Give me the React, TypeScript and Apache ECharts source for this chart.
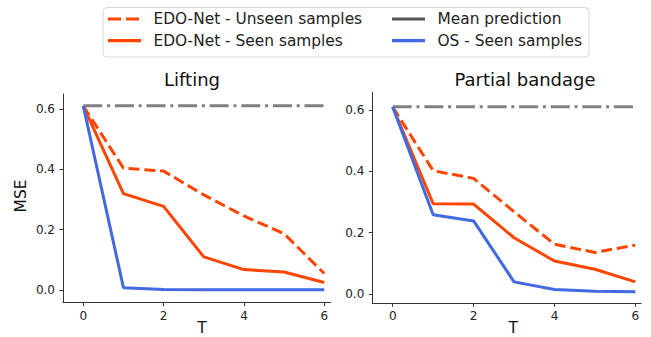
import React, { useEffect, useRef } from "react";
import * as echarts from "echarts";

const T = [0, 1, 2, 3, 4, 5, 6];
const xTicks = [0, 2, 4, 6];
const yTicks = [0, 0.2, 0.4, 0.6];
const panelTitles = ["Lifting", "Partial bandage"];
const seriesNames = [
  "EDO-Net - Unseen samples",
  "EDO-Net - Seen samples",
  "Mean prediction",
  "OS - Seen samples",
];

// Lifting
const liftMean = [0.611, 0.611, 0.611, 0.611, 0.611, 0.611, 0.611];
const liftUnseen = [0.61, 0.404, 0.394, 0.315, 0.245, 0.186, 0.054];
const liftSeen = [0.61, 0.319, 0.277, 0.109, 0.067, 0.059, 0.024];
const liftOS = [0.61, 0.007, 0.001, 0.0, 0.0, 0.0, 0.0];

// Partial bandage
const bandMean = [0.611, 0.611, 0.611, 0.611, 0.611, 0.611, 0.611];
const bandUnseen = [0.61, 0.402, 0.377, 0.268, 0.162, 0.135, 0.159];
const bandSeen = [0.61, 0.294, 0.293, 0.183, 0.107, 0.08, 0.039];
const bandOS = [0.61, 0.258, 0.238, 0.039, 0.014, 0.008, 0.007];

const ORANGE = "#FF4500";
const BLUE = "#4169E1";
const GRAY = "#808080";
const FONT = "DejaVu Sans";

const pairs = (ys: number[]) => T.map((t, i) => [t, ys[i]]);

export default function App() {
  const ref = useRef<HTMLDivElement>(null);
  useEffect(() => {
    if (!ref.current) return;
    const chart = echarts.init(ref.current, null, { renderer: "svg" });

    const grids = [
      { left: 63, top: 94, width: 267.7, height: 208.7 },
      { left: 372.3, top: 92.3, width: 268.7, height: 211 },
    ];
    const xRanges = [
      [-0.505, 6.16],
      [-0.505, 6.14],
    ];
    const yRanges = [
      [-0.043, 0.65],
      [-0.031, 0.658],
    ];
    const axisLine = { show: true, onZero: false, lineStyle: { color: "#333", width: 1 } };
    const axisTick = (vals: number[]) => ({
      show: true,
      length: 3.5,
      customValues: vals,
      lineStyle: { color: "#333", width: 1 },
    });

    const xAxes = [0, 1].map((i) => ({
      type: "value",
      gridIndex: i,
      min: xRanges[i][0],
      max: xRanges[i][1],
      splitLine: { show: false },
      axisLine,
      axisTick: axisTick(xTicks),
      axisLabel: {
        customValues: xTicks,
        color: "#222",
        fontFamily: FONT,
        fontSize: 12,
        margin: 7,
        formatter: (v: number) => String(v),
      },
    }));
    const yAxes = [0, 1].map((i) => ({
      type: "value",
      gridIndex: i,
      min: yRanges[i][0],
      max: yRanges[i][1],
      splitLine: { show: false },
      axisLine,
      axisTick: axisTick(yTicks),
      axisLabel: {
        customValues: yTicks,
        color: "#222",
        fontFamily: FONT,
        fontSize: 12,
        margin: 8,
        formatter: (v: number) => v.toFixed(1),
      },
    }));

    const panels = [
      [liftUnseen, liftSeen, liftMean, liftOS],
      [bandUnseen, bandSeen, bandMean, bandOS],
    ];
    const styles: any[] = [
      { color: ORANGE, width: 3, type: [11, 4.8] },
      { color: ORANGE, width: 3, type: "solid" },
      { color: GRAY, width: 3, type: [19, 4.8, 3, 4.8] },
      { color: BLUE, width: 3, type: "solid" },
    ];
    const drawOrder = [2, 3, 1, 0];
    const series: any[] = [];
    [0, 1].forEach((p) => {
      drawOrder.forEach((k) => {
        series.push({
          type: "line",
          name: seriesNames[k],
          xAxisIndex: p,
          yAxisIndex: p,
          data: pairs(panels[p][k]),
          symbol: "none",
          color: styles[k].color,
          lineStyle: styles[k],
          z: 2 + k,
        });
      });
    });

    // Manual legend (2 columns x 2 rows)
    const legendItems = [
      { name: seriesNames[0], color: ORANGE, dash: [13, 5], col: 0, row: 0 },
      { name: seriesNames[1], color: ORANGE, dash: null, col: 0, row: 1 },
      { name: seriesNames[2], color: "#555", dash: null, col: 1, row: 0 },
      { name: seriesNames[3], color: BLUE, dash: null, col: 1, row: 1 },
    ];
    const colX = [108, 392];
    const rowY = [19, 40.7];
    const legendGraphics: any[] = [];
    legendItems.forEach((it) => {
      const x0 = colX[it.col];
      const y = rowY[it.row];
      legendGraphics.push({
        type: "line",
        shape: { x1: x0, y1: y, x2: x0 + 33, y2: y },
        style: { stroke: it.color, lineWidth: 3.2, lineDash: it.dash || undefined },
      });
      legendGraphics.push({
        type: "text",
        x: x0 + 45.5,
        y,
        style: {
          text: it.name,
          font: `15.4px ${FONT}`,
          fill: "#222",
          textAlign: "left",
          textVerticalAlign: "middle",
        },
      });
    });

    const textEl = (text: string, x: number, y: number, size: number, rot = 0) => ({
      type: "text",
      x,
      y,
      rotation: rot,
      style: {
        text,
        font: `${size}px ${FONT}`,
        fill: "#111",
        textAlign: "center",
        textVerticalAlign: "middle",
      },
    });

    chart.setOption({
      animation: false,
      backgroundColor: "#fff",
      grid: grids,
      xAxis: xAxes,
      yAxis: yAxes,
      series,
      graphic: [
        {
          type: "rect",
          shape: { x: 103, y: 7.5, width: 486, height: 49.5, r: 4 },
          style: { fill: "#fff", stroke: "#d8d8d8", lineWidth: 1 },
          z: -1,
        },
        ...legendGraphics,
        textEl(panelTitles[0], 192, 79.5, 18),
        textEl(panelTitles[1], 525, 79, 18),
        textEl("MSE", 21, 196, 15.4, Math.PI / 2),
        textEl("T", 202, 327.5, 15.4),
        textEl("T", 513.3, 328.2, 15.4),
      ],
    });
    return () => chart.dispose();
  }, []);
  return (
    <div
      ref={ref}
      style={{ position: "fixed", left: 0, top: 0, width: 651, height: 337 }}
    />
  );
}
